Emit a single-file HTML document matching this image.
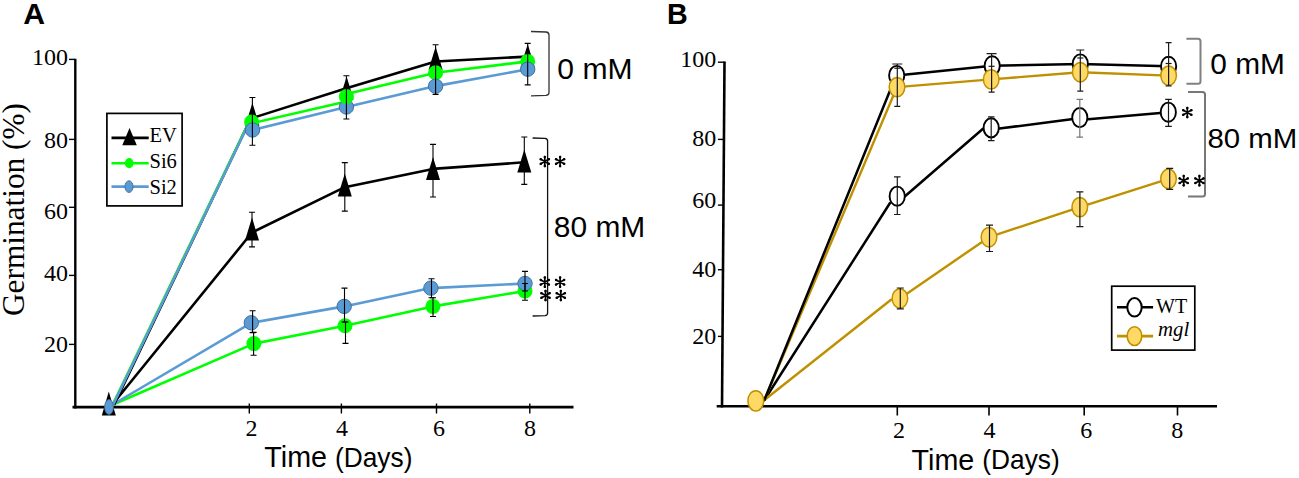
<!DOCTYPE html>
<html><head><meta charset="utf-8"><style>
html,body{margin:0;padding:0;background:#fff;width:1299px;height:478px;overflow:hidden}
svg{display:block}
text{fill:#000}
</style></head><body>
<svg width="1299" height="478" viewBox="0 0 1299 478">
<text x="23.3" y="23.9" font-family="Liberation Sans" font-weight="bold" font-size="30.2">A</text>
<path d="M75.3 58.8V408.5" stroke="#000" stroke-width="2.4" fill="none"/>
<path d="M72.5 407.2H573.5" stroke="#000" stroke-width="2.8" fill="none"/>
<path d="M69 59.4H75" stroke="#000" stroke-width="1.4"/>
<text x="68" y="65.3" text-anchor="end" font-family="Liberation Serif" font-size="24">100</text>
<path d="M69 139.4H75" stroke="#000" stroke-width="1.4"/>
<text x="68" y="148.3" text-anchor="end" font-family="Liberation Serif" font-size="24">80</text>
<path d="M69 207.3H75" stroke="#000" stroke-width="1.4"/>
<text x="68" y="218.5" text-anchor="end" font-family="Liberation Serif" font-size="24">60</text>
<path d="M69 275.4H75" stroke="#000" stroke-width="1.4"/>
<text x="68" y="280.6" text-anchor="end" font-family="Liberation Serif" font-size="24">40</text>
<path d="M69 344.4H75" stroke="#000" stroke-width="1.4"/>
<text x="68" y="351.5" text-anchor="end" font-family="Liberation Serif" font-size="24">20</text>
<path d="M249.3 403.5V413.5" stroke="#000" stroke-width="1.4"/>
<path d="M341.4 403.5V413.5" stroke="#000" stroke-width="1.4"/>
<path d="M436.5 403.5V413.5" stroke="#000" stroke-width="1.4"/>
<path d="M529.8 403.5V413.5" stroke="#000" stroke-width="1.4"/>
<text x="251.6" y="435.7" text-anchor="middle" font-family="Liberation Serif" font-size="24">2</text>
<text x="342" y="435.7" text-anchor="middle" font-family="Liberation Serif" font-size="24">4</text>
<text x="439" y="435.7" text-anchor="middle" font-family="Liberation Serif" font-size="24">6</text>
<text x="530" y="435.7" text-anchor="middle" font-family="Liberation Serif" font-size="24">8</text>
<text x="264.3" y="467" font-family="Liberation Sans" font-size="28.7">Time</text>
<text transform="translate(335,466.8) scale(0.96,1)" font-family="Liberation Sans" font-size="27.4">(Days)</text>
<text transform="translate(23.8,316) rotate(-90)" font-family="Liberation Serif" font-size="31.3">Germination (%)</text>
<polyline points="112.0,405.0 252.0,232.5 344.8,187.2 433.0,168.9 524.3,162.3" fill="none" stroke="#000" stroke-width="2.6" stroke-linejoin="round"/>
<polyline points="112.0,405.0 253.9,343.6 345.0,325.8 432.9,306.4 525.0,291.0" fill="none" stroke="#00FF00" stroke-width="2.6" stroke-linejoin="round"/>
<polyline points="112.0,405.0 251.3,322.8 344.2,306.4 430.9,288.1 525.0,283.5" fill="none" stroke="#5B9BD5" stroke-width="2.6" stroke-linejoin="round"/>
<polyline points="114.0,405.0 251.0,118.0 252.4,118.0 346.4,88.2 435.6,61.5 527.7,56.6" fill="none" stroke="#000" stroke-width="2.6" stroke-linejoin="round"/>
<polyline points="112.5,405.0 249.0,122.0 252.0,123.2 346.4,101.5" fill="none" stroke="#00FF00" stroke-width="2.6" stroke-linejoin="round"/>
<polyline points="346.4,94.0 435.6,72.7 527.7,61.4" fill="none" stroke="#00FF00" stroke-width="2.6" stroke-linejoin="round"/>
<polyline points="113.0,405.0 248.5,124.0 252.5,130.0 346.4,107.0 435.6,86.1 527.7,69.2" fill="none" stroke="#5B9BD5" stroke-width="2.6" stroke-linejoin="round"/>
<polygon points="252.0,217.6 245.0,240.6 259.0,240.6" fill="#000"/>
<polygon points="344.8,173.5 337.8,196.5 351.8,196.5" fill="#000"/>
<polygon points="433.0,157.1 426.0,180.1 440.0,180.1" fill="#000"/>
<polygon points="524.3,149.6 517.3,172.6 531.3,172.6" fill="#000"/>
<circle cx="253.9" cy="343.6" r="7.5" fill="#00FF00"/>
<circle cx="345" cy="325.8" r="7.5" fill="#00FF00"/>
<circle cx="432.9" cy="306.4" r="7.5" fill="#00FF00"/>
<circle cx="525" cy="291" r="7.5" fill="#00FF00"/>
<circle cx="251.3" cy="322.8" r="7.2" fill="#5B9BD5" stroke="#41719C" stroke-width="1"/>
<circle cx="344.2" cy="306.4" r="7.2" fill="#5B9BD5" stroke="#41719C" stroke-width="1"/>
<circle cx="430.9" cy="288.1" r="7.2" fill="#5B9BD5" stroke="#41719C" stroke-width="1"/>
<circle cx="525" cy="283.5" r="7.2" fill="#5B9BD5" stroke="#41719C" stroke-width="1"/>
<polygon points="252.4,102.7 245.4,125.7 259.4,125.7" fill="#000"/>
<polygon points="346.6,76.6 339.6,99.6 353.6,99.6" fill="#000"/>
<polygon points="435.6,46.7 428.6,69.7 442.6,69.7" fill="#000"/>
<polygon points="527.7,44.0 520.7,67.0 534.7,67.0" fill="#000"/>
<circle cx="251.6" cy="122" r="7.5" fill="#00FF00"/>
<circle cx="252.5" cy="130" r="7.2" fill="#5B9BD5" stroke="#41719C" stroke-width="1"/>
<circle cx="346.4" cy="107" r="7.2" fill="#5B9BD5" stroke="#41719C" stroke-width="1"/>
<circle cx="346.4" cy="96.6" r="7.5" fill="#00FF00"/>
<circle cx="435.6" cy="72.7" r="7.5" fill="#00FF00"/>
<circle cx="435.6" cy="86.1" r="7.2" fill="#5B9BD5" stroke="#41719C" stroke-width="1"/>
<circle cx="527.7" cy="61.4" r="7.5" fill="#00FF00"/>
<circle cx="527.7" cy="69.2" r="7.2" fill="#5B9BD5" stroke="#41719C" stroke-width="1"/>
<polygon points="108.8,391.6 101.8,415.6 115.8,415.6" fill="#000"/>
<ellipse cx="109" cy="407" rx="4.4" ry="7.4" fill="#5B9BD5" stroke="#41719C" stroke-width="0.8"/>
<path d="M252.4 97.5V145.2M249.4 97.5H255.4M249.4 145.2H255.4" stroke="#000" stroke-width="1.1" fill="none"/>
<path d="M346.4 75.7V119.0M343.4 75.7H349.4M343.4 119.0H349.4" stroke="#000" stroke-width="1.1" fill="none"/>
<path d="M435.6 44.7V94.4M432.6 44.7H438.6M432.6 94.4H438.6" stroke="#000" stroke-width="1.1" fill="none"/>
<path d="M527.7 43.4V84.9M524.7 43.4H530.7M524.7 84.9H530.7" stroke="#000" stroke-width="1.1" fill="none"/>
<path d="M252.0 212.3V246.9M249.0 212.3H255.0M249.0 246.9H255.0" stroke="#000" stroke-width="1.1" fill="none"/>
<path d="M344.8 162.6V211.1M341.8 162.6H347.8M341.8 211.1H347.8" stroke="#000" stroke-width="1.1" fill="none"/>
<path d="M433.0 144.4V197.0M430.0 144.4H436.0M430.0 197.0H436.0" stroke="#000" stroke-width="1.1" fill="none"/>
<path d="M524.3 137.0V184.4M521.3 137.0H527.3M521.3 184.4H527.3" stroke="#000" stroke-width="1.1" fill="none"/>
<path d="M252.6 310.7V332.6M249.6 310.7H255.6M249.6 332.6H255.6" stroke="#000" stroke-width="1.1" fill="none"/>
<path d="M344.5 288.1V322.0M341.5 288.1H347.5M341.5 322.0H347.5" stroke="#000" stroke-width="1.1" fill="none"/>
<path d="M431.5 278.8V297.7M428.5 278.8H434.5M428.5 297.7H434.5" stroke="#000" stroke-width="1.1" fill="none"/>
<path d="M525.0 271.4V291.0M522.0 271.4H528.0M522.0 291.0H528.0" stroke="#000" stroke-width="1.1" fill="none"/>
<path d="M253.6 332.4V355.2M250.6 332.4H256.6M250.6 355.2H256.6" stroke="#000" stroke-width="1.1" fill="none"/>
<path d="M345.5 322.0V343.4M342.5 322.0H348.5M342.5 343.4H348.5" stroke="#000" stroke-width="1.1" fill="none"/>
<path d="M433.0 297.7V316.5M430.0 297.7H436.0M430.0 316.5H436.0" stroke="#000" stroke-width="1.1" fill="none"/>
<path d="M525.0 283.5V300.2M522.0 283.5H528.0M522.0 300.2H528.0" stroke="#000" stroke-width="1.1" fill="none"/>
<path d="M531 31.5L546 32Q549 32.3 549 35V92.5Q549 95.2 546 95.4L531 95.8" stroke="#333" stroke-width="1.3" fill="none"/>
<path d="M532.6 138L545 138.3Q547.6 138.6 547.6 141V313Q547.6 315.4 545 315.6L532.6 316" stroke="#111" stroke-width="1.3" fill="none"/>
<text transform="translate(557.3,79.2) scale(1.045,1)" font-family="Liberation Sans" font-size="28.8">0 mM</text>
<text transform="translate(553.8,237.4) scale(1.025,1)" font-family="Liberation Sans" font-size="29.2">80 mM</text>
<path d="M544.80 156.50L544.80 166.50M540.47 159.00L549.13 164.00M549.13 159.00L540.47 164.00" stroke="#000" stroke-width="1.7" stroke-linecap="round" fill="none"/><circle cx="544.80" cy="166.10" r="1.25" fill="#000"/><circle cx="544.80" cy="156.90" r="1.25" fill="#000"/><circle cx="548.78" cy="163.80" r="1.25" fill="#000"/><circle cx="540.82" cy="159.20" r="1.25" fill="#000"/><circle cx="540.82" cy="163.80" r="1.25" fill="#000"/><circle cx="548.78" cy="159.20" r="1.25" fill="#000"/>
<path d="M560.10 156.50L560.10 166.50M555.77 159.00L564.43 164.00M564.43 159.00L555.77 164.00" stroke="#000" stroke-width="1.7" stroke-linecap="round" fill="none"/><circle cx="560.10" cy="166.10" r="1.25" fill="#000"/><circle cx="560.10" cy="156.90" r="1.25" fill="#000"/><circle cx="564.08" cy="163.80" r="1.25" fill="#000"/><circle cx="556.12" cy="159.20" r="1.25" fill="#000"/><circle cx="556.12" cy="163.80" r="1.25" fill="#000"/><circle cx="564.08" cy="159.20" r="1.25" fill="#000"/>
<path d="M544.80 277.20L544.80 287.20M540.47 279.70L549.13 284.70M549.13 279.70L540.47 284.70" stroke="#000" stroke-width="1.7" stroke-linecap="round" fill="none"/><circle cx="544.80" cy="286.80" r="1.25" fill="#000"/><circle cx="544.80" cy="277.60" r="1.25" fill="#000"/><circle cx="548.78" cy="284.50" r="1.25" fill="#000"/><circle cx="540.82" cy="279.90" r="1.25" fill="#000"/><circle cx="540.82" cy="284.50" r="1.25" fill="#000"/><circle cx="548.78" cy="279.90" r="1.25" fill="#000"/>
<path d="M560.10 277.20L560.10 287.20M555.77 279.70L564.43 284.70M564.43 279.70L555.77 284.70" stroke="#000" stroke-width="1.7" stroke-linecap="round" fill="none"/><circle cx="560.10" cy="286.80" r="1.25" fill="#000"/><circle cx="560.10" cy="277.60" r="1.25" fill="#000"/><circle cx="564.08" cy="284.50" r="1.25" fill="#000"/><circle cx="556.12" cy="279.90" r="1.25" fill="#000"/><circle cx="556.12" cy="284.50" r="1.25" fill="#000"/><circle cx="564.08" cy="279.90" r="1.25" fill="#000"/>
<path d="M545.50 290.50L545.50 300.50M541.17 293.00L549.83 298.00M549.83 293.00L541.17 298.00" stroke="#000" stroke-width="1.7" stroke-linecap="round" fill="none"/><circle cx="545.50" cy="300.10" r="1.25" fill="#000"/><circle cx="545.50" cy="290.90" r="1.25" fill="#000"/><circle cx="549.48" cy="297.80" r="1.25" fill="#000"/><circle cx="541.52" cy="293.20" r="1.25" fill="#000"/><circle cx="541.52" cy="297.80" r="1.25" fill="#000"/><circle cx="549.48" cy="293.20" r="1.25" fill="#000"/>
<path d="M560.80 290.50L560.80 300.50M556.47 293.00L565.13 298.00M565.13 293.00L556.47 298.00" stroke="#000" stroke-width="1.7" stroke-linecap="round" fill="none"/><circle cx="560.80" cy="300.10" r="1.25" fill="#000"/><circle cx="560.80" cy="290.90" r="1.25" fill="#000"/><circle cx="564.78" cy="297.80" r="1.25" fill="#000"/><circle cx="556.82" cy="293.20" r="1.25" fill="#000"/><circle cx="556.82" cy="297.80" r="1.25" fill="#000"/><circle cx="564.78" cy="293.20" r="1.25" fill="#000"/>
<rect x="106.9" y="113.4" width="75.2" height="92.5" fill="#fff" stroke="#000" stroke-width="1.7"/>
<path d="M111.5 137.9H148.7" stroke="#000" stroke-width="2.6"/>
<polygon points="129.5,128 122.3,145.2 136.8,145.2" fill="#000"/>
<path d="M111.5 163.2H148.7" stroke="#00FF00" stroke-width="2.6"/>
<ellipse cx="129.2" cy="163.2" rx="4.3" ry="5.1" fill="#00FF00"/>
<path d="M111.5 186.6H148.7" stroke="#5B9BD5" stroke-width="2.6"/>
<ellipse cx="129" cy="186.6" rx="4.0" ry="5.8" fill="#5B9BD5" stroke="#41719C" stroke-width="1"/>
<text x="149.5" y="141.8" font-family="Liberation Serif" font-size="20.5">EV</text>
<text x="149.5" y="168.2" font-family="Liberation Serif" font-size="20.5">Si6</text>
<text x="149.5" y="193.5" font-family="Liberation Serif" font-size="20.5">Si2</text>
<text transform="translate(667,23.9) scale(0.95,1)" font-family="Liberation Sans" font-weight="bold" font-size="30.2">B</text>
<path d="M724.5 61.5L722 407.5" stroke="#000" stroke-width="2.6" fill="none"/>
<path d="M716.7 406.3H1217" stroke="#000" stroke-width="2.6" fill="none"/>
<path d="M717.9 62.2H724.5" stroke="#000" stroke-width="1.4"/>
<text x="716.2" y="67.2" text-anchor="end" font-family="Liberation Serif" font-size="24">100</text>
<path d="M717.9 139.4H723.9" stroke="#000" stroke-width="1.4"/>
<text x="716.2" y="146.1" text-anchor="end" font-family="Liberation Serif" font-size="24">80</text>
<path d="M717.9 205.1H723.3" stroke="#000" stroke-width="1.4"/>
<text x="716.2" y="208.3" text-anchor="end" font-family="Liberation Serif" font-size="24">60</text>
<path d="M717.9 269.7H722.5" stroke="#000" stroke-width="1.4"/>
<text x="716.2" y="277.3" text-anchor="end" font-family="Liberation Serif" font-size="24">40</text>
<path d="M717.9 336.4H722.2" stroke="#000" stroke-width="1.4"/>
<text x="716.2" y="343.7" text-anchor="end" font-family="Liberation Serif" font-size="24">20</text>
<path d="M897.3 406V415.5" stroke="#000" stroke-width="1.6"/>
<path d="M989 406V415.5" stroke="#000" stroke-width="1.6"/>
<path d="M1084.2 406V415.5" stroke="#000" stroke-width="1.6"/>
<path d="M1177.5 406V415.5" stroke="#000" stroke-width="1.6"/>
<text x="899" y="437.9" text-anchor="middle" font-family="Liberation Serif" font-size="24">2</text>
<text x="989.6" y="437.9" text-anchor="middle" font-family="Liberation Serif" font-size="24">4</text>
<text x="1086.3" y="437.9" text-anchor="middle" font-family="Liberation Serif" font-size="24">6</text>
<text x="1177.2" y="437.9" text-anchor="middle" font-family="Liberation Serif" font-size="24">8</text>
<text x="911.6" y="469.6" font-family="Liberation Sans" font-size="28.7">Time</text>
<text transform="translate(982.3,469.4) scale(0.96,1)" font-family="Liberation Sans" font-size="27.4">(Days)</text>
<path d="M764.4 400.0L890.0 203.0" stroke="#000" stroke-width="2.5" stroke-linecap="round" fill="none"/>
<path d="M764.4 400.0L891.0 299.7" stroke="#BF9000" stroke-width="2.4" stroke-linecap="round" fill="none"/>
<path d="M764.4 400.0L897.0 87.0" stroke="#BF9000" stroke-width="2.4" stroke-linecap="round" fill="none"/>
<path d="M764.4 400.0L893.5 82.0" stroke="#000" stroke-width="2.5" stroke-linecap="round" fill="none"/>
<path d="M905.0 196.2L983.0 128.7" stroke="#000" stroke-width="2.5" stroke-linecap="round" fill="none"/>
<path d="M999.5 128.5L1071.3 119.3" stroke="#000" stroke-width="2.5" stroke-linecap="round" fill="none"/>
<path d="M1088.2 119.3L1160.2 113.0" stroke="#000" stroke-width="2.5" stroke-linecap="round" fill="none"/>
<polyline points="899.9,298.4 989.0,237.2 1079.8,207.1 1168.5,178.8" fill="none" stroke="#BF9000" stroke-width="2.4" stroke-linejoin="round"/>
<polyline points="896.7,75.5 992.2,65.8 1080.3,64.0 1168.6,66.3" fill="none" stroke="#000" stroke-width="2.5" stroke-linejoin="round"/>
<polyline points="897.0,87.1 991.2,79.4 1080.3,72.2 1168.6,75.6" fill="none" stroke="#BF9000" stroke-width="2.4" stroke-linejoin="round"/>
<ellipse cx="897.2" cy="196.2" rx="7.6" ry="9.6" fill="#fff" stroke="#000" stroke-width="1.9"/>
<ellipse cx="991.2" cy="127.9" rx="7.6" ry="9.6" fill="#fff" stroke="#000" stroke-width="1.9"/>
<ellipse cx="1079.8" cy="117.6" rx="7.6" ry="9.6" fill="#fff" stroke="#000" stroke-width="1.9"/>
<ellipse cx="1168.3" cy="112.2" rx="7.6" ry="9.6" fill="#fff" stroke="#000" stroke-width="1.9"/>
<ellipse cx="896.7" cy="75.5" rx="7.6" ry="9.6" fill="#fff" stroke="#000" stroke-width="1.9"/>
<ellipse cx="992.2" cy="65.8" rx="7.6" ry="9.6" fill="#fff" stroke="#000" stroke-width="1.9"/>
<ellipse cx="1080.3" cy="64" rx="7.6" ry="9.6" fill="#fff" stroke="#000" stroke-width="1.9"/>
<ellipse cx="1168.6" cy="66.3" rx="7.6" ry="9.6" fill="#fff" stroke="#000" stroke-width="1.9"/>
<ellipse cx="899.9" cy="298.4" rx="7.8" ry="9.7" fill="#FFD966" stroke="#BF9000" stroke-width="1.5"/>
<ellipse cx="989" cy="237.2" rx="7.8" ry="9.7" fill="#FFD966" stroke="#BF9000" stroke-width="1.5"/>
<ellipse cx="1079.8" cy="207.1" rx="7.8" ry="9.7" fill="#FFD966" stroke="#BF9000" stroke-width="1.5"/>
<ellipse cx="1168.5" cy="178.8" rx="7.8" ry="9.7" fill="#FFD966" stroke="#BF9000" stroke-width="1.5"/>
<ellipse cx="897" cy="87.1" rx="7.8" ry="9.7" fill="#FFD966" stroke="#BF9000" stroke-width="1.5"/>
<ellipse cx="991.2" cy="79.4" rx="7.8" ry="9.7" fill="#FFD966" stroke="#BF9000" stroke-width="1.5"/>
<ellipse cx="1080.3" cy="72.2" rx="7.8" ry="9.7" fill="#FFD966" stroke="#BF9000" stroke-width="1.5"/>
<ellipse cx="1168.6" cy="75.6" rx="7.8" ry="9.7" fill="#FFD966" stroke="#BF9000" stroke-width="1.5"/>
<ellipse cx="755.8" cy="400.8" rx="7.9" ry="10.1" fill="#FFD966" stroke="#BF9000" stroke-width="1.5"/>
<path d="M897.3 64V106.4M892.3 64H902.3M894.3 106.4H900.3" stroke="#1a1a1a" stroke-width="1.2" fill="none"/>
<path d="M991.6 53.6V92.1M986.6 53.6H996.6M988.6 92.1H994.6" stroke="#1a1a1a" stroke-width="1.2" fill="none"/>
<path d="M1080.3 50V91.2M1076.3 50H1084.3M1077.3 91.2H1083.3" stroke="#1a1a1a" stroke-width="1.2" fill="none"/>
<path d="M1168.6 42.6V85.9M1165.6 42.6H1171.6M1165.6 85.9H1171.6" stroke="#1a1a1a" stroke-width="1.2" fill="none"/>
<path d="M894.3 68.2H900.3" stroke="#1a1a1a" stroke-width="1.2"/>
<path d="M988.6 66.3H994.6" stroke="#1a1a1a" stroke-width="1.2"/>
<path d="M1077.3 58H1083.3" stroke="#1a1a1a" stroke-width="1.2"/>
<path d="M1165.6 63.5H1171.6" stroke="#1a1a1a" stroke-width="1.2"/>
<path d="M897.3 176.8V214.5M894.0 176.8H900.5M894.0 214.5H900.5" stroke="#1a1a1a" stroke-width="1.2" fill="none"/>
<path d="M991.2 116.8V140.6M988.0 116.8H994.5M988.0 140.6H994.5" stroke="#1a1a1a" stroke-width="1.2" fill="none"/>
<path d="M1079.8 99.4V137.1M1076.5 99.4H1083.0M1076.5 137.1H1083.0" stroke="#777" stroke-width="1.2" fill="none"/>
<path d="M1168.5 99.4V126.3M1165.2 99.4H1171.8M1165.2 126.3H1171.8" stroke="#1a1a1a" stroke-width="1.2" fill="none"/>
<path d="M900.3 288.0V308.9M896.8 288.0H903.8M896.8 308.9H903.8" stroke="#1a1a1a" stroke-width="1.2" fill="none"/>
<path d="M989.5 225.1V251.5M986.0 225.1H993.0M986.0 251.5H993.0" stroke="#1a1a1a" stroke-width="1.2" fill="none"/>
<path d="M1079.9 191.9V226.7M1076.4 191.9H1083.4M1076.4 226.7H1083.4" stroke="#1a1a1a" stroke-width="1.2" fill="none"/>
<path d="M1169.7 168.4V189.3M1166.2 168.4H1173.2M1166.2 189.3H1173.2" stroke="#1a1a1a" stroke-width="1.2" fill="none"/>
<path d="M1186.4 38.8H1198Q1200.5 38.8 1200.5 41.3V81.2Q1200.5 83.7 1198 83.7H1186.4" stroke="#808080" stroke-width="2" fill="none"/>
<path d="M1188 92H1202.5Q1205 92 1205 94.5V194.1Q1205 196.6 1202.5 196.6H1188" stroke="#777" stroke-width="2" fill="none"/>
<text transform="translate(1210.3,73.5) scale(1.03,1)" font-family="Liberation Sans" font-size="29">0 mM</text>
<text transform="translate(1207.5,148) scale(1.05,1)" font-family="Liberation Sans" font-size="28">80 mM</text>
<path d="M1187.30 107.50L1187.30 117.50M1182.97 110.00L1191.63 115.00M1191.63 110.00L1182.97 115.00" stroke="#000" stroke-width="1.7" stroke-linecap="round" fill="none"/><circle cx="1187.30" cy="117.10" r="1.25" fill="#000"/><circle cx="1187.30" cy="107.90" r="1.25" fill="#000"/><circle cx="1191.28" cy="114.80" r="1.25" fill="#000"/><circle cx="1183.32" cy="110.20" r="1.25" fill="#000"/><circle cx="1183.32" cy="114.80" r="1.25" fill="#000"/><circle cx="1191.28" cy="110.20" r="1.25" fill="#000"/>
<path d="M1183.70 175.70L1183.70 185.70M1179.37 178.20L1188.03 183.20M1188.03 178.20L1179.37 183.20" stroke="#000" stroke-width="1.7" stroke-linecap="round" fill="none"/><circle cx="1183.70" cy="185.30" r="1.25" fill="#000"/><circle cx="1183.70" cy="176.10" r="1.25" fill="#000"/><circle cx="1187.68" cy="183.00" r="1.25" fill="#000"/><circle cx="1179.72" cy="178.40" r="1.25" fill="#000"/><circle cx="1179.72" cy="183.00" r="1.25" fill="#000"/><circle cx="1187.68" cy="178.40" r="1.25" fill="#000"/>
<path d="M1199.40 175.70L1199.40 185.70M1195.07 178.20L1203.73 183.20M1203.73 178.20L1195.07 183.20" stroke="#000" stroke-width="1.7" stroke-linecap="round" fill="none"/><circle cx="1199.40" cy="185.30" r="1.25" fill="#000"/><circle cx="1199.40" cy="176.10" r="1.25" fill="#000"/><circle cx="1203.38" cy="183.00" r="1.25" fill="#000"/><circle cx="1195.42" cy="178.40" r="1.25" fill="#000"/><circle cx="1195.42" cy="183.00" r="1.25" fill="#000"/><circle cx="1203.38" cy="178.40" r="1.25" fill="#000"/>
<rect x="1111.7" y="286.2" width="83.1" height="63.9" fill="#fff" stroke="#000" stroke-width="1.7"/>
<path d="M1117 307.3H1153.1" stroke="#000" stroke-width="2.6"/>
<ellipse cx="1134.5" cy="307.3" rx="7.2" ry="9.2" fill="#fff" stroke="#000" stroke-width="2"/>
<path d="M1117 336.1H1153.1" stroke="#BF9000" stroke-width="2.6"/>
<ellipse cx="1134.5" cy="336.1" rx="7.3" ry="9.4" fill="#FFD966" stroke="#BF9000" stroke-width="1.6"/>
<text x="1156" y="312.7" font-family="Liberation Serif" font-size="20">WT</text>
<text x="1158" y="336.2" font-family="Liberation Serif" font-style="italic" font-size="20.8">mgl</text>
</svg>
</body></html>
